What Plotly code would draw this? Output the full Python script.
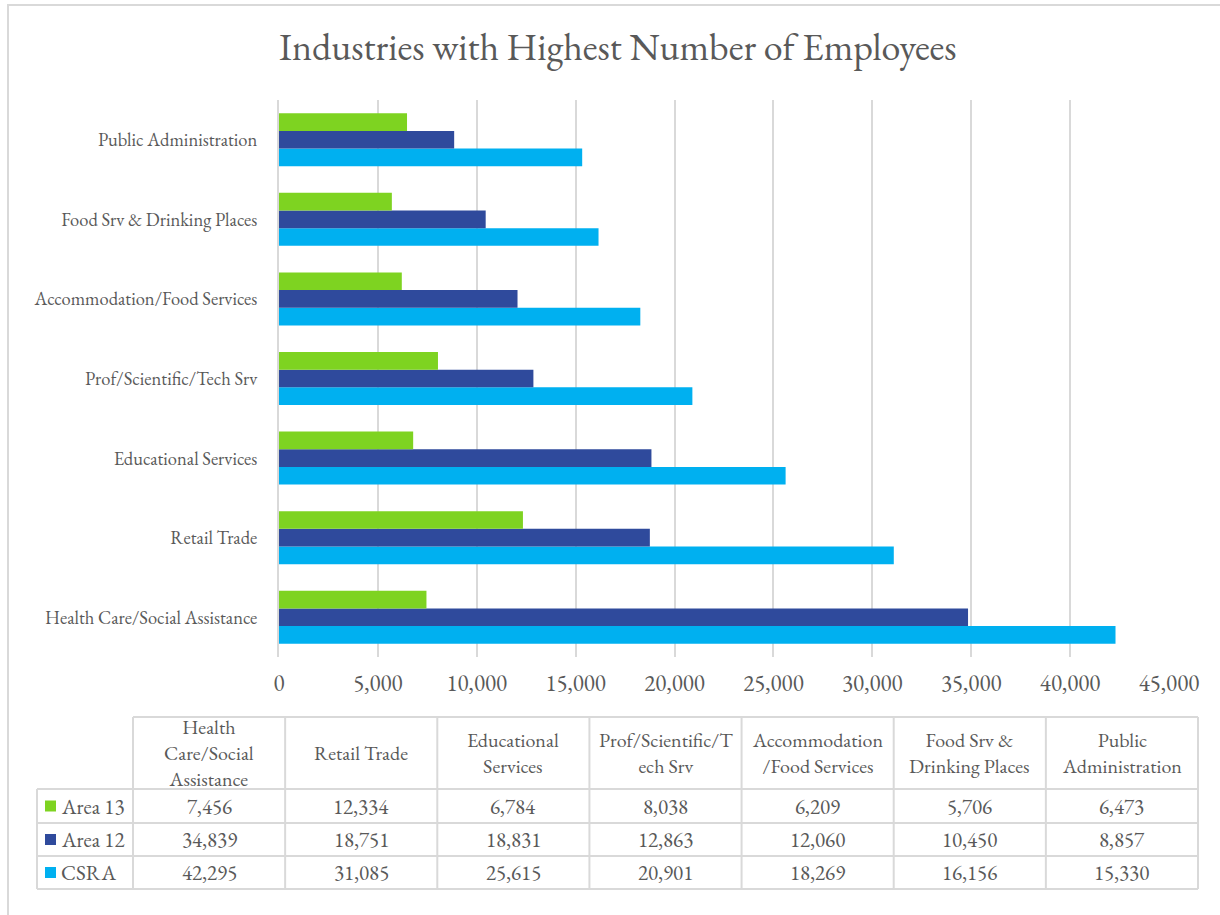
import plotly.graph_objects as go

# ---- data ----
categories = [
    "Health Care/Social Assistance",
    "Retail Trade",
    "Educational Services",
    "Prof/Scientific/Tech Srv",
    "Accommodation/Food Services",
    "Food Srv & Drinking Places",
    "Public Administration",
]
table_headers = [
    "Health<br>Care/Social<br>Assistance",
    "Retail Trade",
    "Educational<br>Services",
    "Prof/Scientific/T<br>ech Srv",
    "Accommodation<br>/Food Services",
    "Food Srv &<br>Drinking Places",
    "Public<br>Administration",
]
series_names = ["Area 13", "Area 12", "CSRA"]
area13 = [7456, 12334, 6784, 8038, 6209, 5706, 6473]
area12 = [34839, 18751, 18831, 12863, 12060, 10450, 8857]
csra = [42295, 31085, 25615, 20901, 18269, 16156, 15330]
x_tick_values = [0, 5000, 10000, 15000, 20000, 25000, 30000, 35000, 40000, 45000]

title_text = "Industries with Highest Number of Employees"

# ---- styling ----
W, H = 1220, 915
FONT = "Garamond, 'EB Garamond', 'Liberation Serif', serif"
TEXT = "#595959"
GRID = "#d9d9d9"
colors = {"Area 13": "#7ED321", "Area 12": "#2F4A9C", "CSRA": "#00B0F0"}
values = {"Area 13": area13, "Area 12": area12, "CSRA": csra}


def px(x):
    return x / W


def py(y):
    return 1 - y / H


fig = go.Figure()

# bars: bottom-to-top inside each group is CSRA, Area 12, Area 13
for name in ["CSRA", "Area 12", "Area 13"]:
    fig.add_trace(go.Bar(
        y=categories,
        x=values[name],
        name=name,
        orientation="h",
        marker=dict(color=colors[name], line=dict(width=0)),
        hoverinfo="x+name",
    ))

shapes = []
annotations = []

# outer chart border (runs off the right and bottom edges)
shapes.append(dict(type="rect", xref="paper", yref="paper",
                   x0=px(8), x1=px(1240), y0=py(5), y1=py(940),
                   line=dict(color=GRID, width=2), layer="below"))

# data table under the chart
col_w = (1198 - 133) / 7
col_edges = [133 + col_w * i for i in range(8)]
row_edges = [717, 789, 823, 856, 889]
leg_left = 37

line_style = dict(color=GRID, width=2)
# horizontal rules
shapes.append(dict(type="line", xref="paper", yref="paper",
                   x0=px(col_edges[0]), x1=px(col_edges[-1]),
                   y0=py(row_edges[0]), y1=py(row_edges[0]), line=line_style))
for ry in row_edges[1:]:
    shapes.append(dict(type="line", xref="paper", yref="paper",
                       x0=px(leg_left), x1=px(col_edges[-1]),
                       y0=py(ry), y1=py(ry), line=line_style))
# vertical rules
shapes.append(dict(type="line", xref="paper", yref="paper",
                   x0=px(leg_left), x1=px(leg_left),
                   y0=py(row_edges[1]), y1=py(row_edges[-1]), line=line_style))
for cx in col_edges:
    shapes.append(dict(type="line", xref="paper", yref="paper",
                       x0=px(cx), x1=px(cx),
                       y0=py(row_edges[0]), y1=py(row_edges[-1]), line=line_style))

TABLE_FONT = dict(family=FONT, size=21, color=TEXT)
HEAD_FONT = dict(family=FONT, size=20, color=TEXT)

# header cells
for i, head in enumerate(table_headers):
    cx = (col_edges[i] + col_edges[i + 1]) / 2
    cy = (row_edges[0] + row_edges[1]) / 2
    annotations.append(dict(xref="paper", yref="paper", x=px(cx), y=py(cy),
                            text=head, showarrow=False, xanchor="center",
                            yanchor="middle", align="center", font=HEAD_FONT))

# value rows with legend keys
for r, name in enumerate(series_names):
    top, bot = row_edges[r + 1], row_edges[r + 2]
    cy = (top + bot) / 2
    shapes.append(dict(type="rect", xref="paper", yref="paper",
                       x0=px(45), x1=px(56), y0=py(cy - 5.5), y1=py(cy + 5.5),
                       fillcolor=colors[name], line=dict(width=0)))
    annotations.append(dict(xref="paper", yref="paper", x=px(59), y=py(cy),
                            text=name, showarrow=False, xanchor="left",
                            yanchor="middle", font=TABLE_FONT))
    for i, v in enumerate(values[name]):
        cx = (col_edges[i] + col_edges[i + 1]) / 2
        annotations.append(dict(xref="paper", yref="paper", x=px(cx), y=py(cy),
                                text=f"{v:,}", showarrow=False, xanchor="center",
                                yanchor="middle", font=TABLE_FONT))

# title
annotations.append(dict(xref="paper", yref="paper", x=px(618), y=py(47),
                        text=title_text, showarrow=False, xanchor="center",
                        yanchor="middle",
                        font=dict(family=FONT, size=38, color=TEXT)))

fig.update_layout(
    width=W, height=H,
    margin=dict(l=0, r=0, t=0, b=0, autoexpand=False),
    paper_bgcolor="white",
    plot_bgcolor="white",
    barmode="group",
    bargap=0.334,
    bargroupgap=0,
    showlegend=False,
    font=dict(family=FONT, color=TEXT),
    xaxis=dict(
        domain=[px(279), px(1169)],
        range=[0, 45000],
        tickvals=x_tick_values,
        tickformat=",",
        showgrid=True, gridcolor=GRID, gridwidth=2,
        zeroline=False,
        showline=False,
        ticks="",
        ticklabelstandoff=10,
        tickfont=dict(family=FONT, size=23, color=TEXT),
        automargin=False,
        fixedrange=True,
    ),
    yaxis=dict(
        domain=[py(657), py(100)],
        range=[-0.5, 6.5],
        type="category",
        categoryorder="array",
        categoryarray=categories,
        showgrid=False,
        showline=True, linecolor=GRID, linewidth=2,
        zeroline=False,
        ticks="",
        ticklabelstandoff=16,
        tickfont=dict(family=FONT, size=18.5, color=TEXT),
        automargin=False,
        fixedrange=True,
    ),
    shapes=shapes,
    annotations=annotations,
)

fig.write_html("out.html")
